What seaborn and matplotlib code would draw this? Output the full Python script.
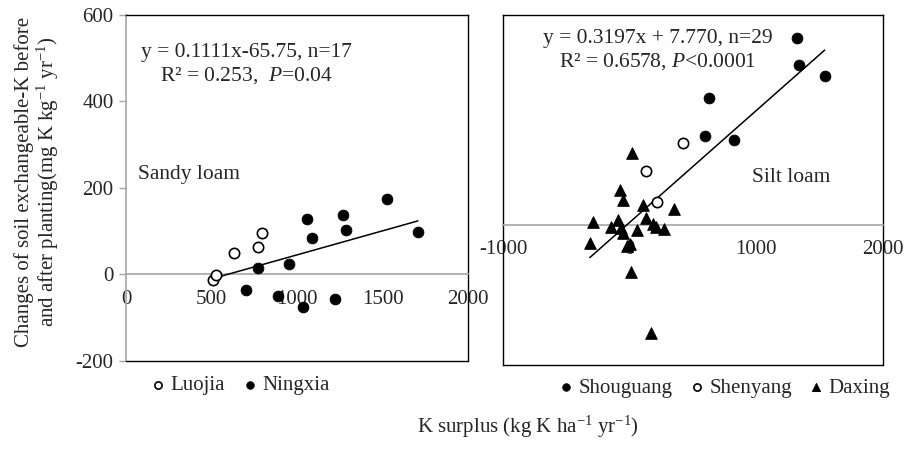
import numpy as np
import matplotlib
matplotlib.use("Agg")
import matplotlib.pyplot as plt
import seaborn as sns

sns.set_style("white")
plt.rcParams["font.family"] = ["Liberation Serif", "DejaVu Serif"]
plt.rcParams["mathtext.fontset"] = "custom"
plt.rcParams["mathtext.rm"] = "Liberation Serif"
plt.rcParams["mathtext.it"] = "Liberation Serif:italic"
plt.rcParams["axes.unicode_minus"] = False
FS = 15

# Sandy loam sites
luojia_x = [509, 528, 630, 772, 797]
luojia_y = [-12, -2, 49, 63, 96]
ningxia_x = [700, 772, 889, 953, 1033, 1060, 1090, 1222, 1271, 1286, 1526, 1707]
ningxia_y = [-36, 14, -49, 24, -75, 129, 85, -57, 138, 104, 174, 98]

# Silt loam sites
shouguang_x = [1320, 1338, 1539, 627, 592, 827]
shouguang_y = [534, 457, 427, 362, 254, 243]
shenyang_x = [424, 126, 215]
shenyang_y = [234, 155, 65]
daxing_x = [15, -77, -51, 102, 347, -293, -96, -148, -72, -56,
            126, 60, 181, 208, 273, -315, 2, -25, 10, 168]
daxing_y = [207, 101, 72, 58, 46, 10, 14, -7, -9, -24,
            19, -13, 3, -5, -11, -52, -54, -61, -133, -308]

# fitted lines (slope, intercept) as printed on the chart
sandy_fit = (0.1111, -65.75)
silt_fit = (0.3197, 7.770)

GRAY = "#a6a6a6"


def frame(ax):
    for s in ["top", "right", "left"]:
        ax.spines[s].set_color("black")
        ax.spines[s].set_linewidth(1.0)
    ax.spines["bottom"].set_position(("data", 0))
    ax.spines["bottom"].set_color(GRAY)
    ax.spines["bottom"].set_linewidth(1.2)
    # bottom border of the box
    ax.plot([0, 1], [0, 0], transform=ax.transAxes, color="black",
            lw=1.0, clip_on=False, zorder=3)
    ax.tick_params(axis="x", direction="inout", length=6, color=GRAY,
                   width=1, pad=8, labelsize=FS)


fig = plt.figure(figsize=(9.13, 4.49), dpi=100)
ax1 = fig.add_axes([0.138, 0.196, 0.3746, 0.7706])
ax2 = fig.add_axes([0.551, 0.187, 0.4162, 0.7795])

# ---- left panel: sandy loam
sns.scatterplot(x=luojia_x, y=luojia_y, ax=ax1, marker="o", s=55,
                color="white", edgecolor="black", linewidth=1.2, label="Luojia", zorder=4)
sns.scatterplot(x=ningxia_x, y=ningxia_y, ax=ax1, marker="o", s=60,
                color="black", edgecolor="black", label="Ningxia", zorder=4)
xs = np.array([min(luojia_x + ningxia_x), max(luojia_x + ningxia_x)])
ax1.plot(xs, sandy_fit[0] * xs + sandy_fit[1], color="black", lw=1.1, zorder=3)

ax1.set_xlim(0, 2000)
ax1.set_ylim(-200, 600)
ax1.set_xticks(range(0, 2001, 500))
ax1.set_yticks(range(-200, 601, 200))
frame(ax1)
ax1.spines["left"].set_color(GRAY)
ax1.spines["left"].set_linewidth(1.2)
ax1.tick_params(axis="y", direction="out", length=5, color=GRAY, width=1,
                pad=4, labelsize=FS, left=True)

ax1.text(0.351, 0.893, "y = 0.1111x-65.75, n=17", transform=ax1.transAxes,
         ha="center", va="center", fontsize=15.5)
ax1.text(0.351, 0.824, "R² = 0.253,  $\\it{P}$=0.04", transform=ax1.transAxes,
         ha="center", va="center", fontsize=15.5)
ax1.text(0.035, 0.540, "Sandy loam", transform=ax1.transAxes,
         ha="left", va="center", fontsize=15.5)

ax1.set_xlabel("")
ax1.set_ylabel("Changes of soil exchangeable-K before\n"
               "and after planting(mg K kg$^{-1}$ yr$^{-1}$)", fontsize=FS,
               linespacing=1.05)
ax1.yaxis.set_label_coords(-0.19, 0.517)

ax1.legend(loc="center left", bbox_to_anchor=(0.075, -0.07), ncol=2,
           frameon=False, handlelength=0.6, handletextpad=0.3, columnspacing=0.9,
           markerscale=0.7, borderaxespad=0, borderpad=0, fontsize=FS)

# ---- right panel: silt loam
sns.scatterplot(x=shouguang_x, y=shouguang_y, ax=ax2, marker="o", s=60,
                color="black", edgecolor="black", label="Shouguang", zorder=4)
sns.scatterplot(x=shenyang_x, y=shenyang_y, ax=ax2, marker="o", s=55,
                color="white", edgecolor="black", linewidth=1.2, label="Shenyang", zorder=4)
sns.scatterplot(x=daxing_x, y=daxing_y, ax=ax2, marker="^", s=70,
                color="black", edgecolor="black", label="Daxing", zorder=4)
all_x = shouguang_x + shenyang_x + daxing_x
xs = np.array([min(all_x), max(all_x)])
ax2.plot(xs, silt_fit[0] * xs + silt_fit[1], color="black", lw=1.1, zorder=3)

ax2.set_xlim(-1000, 2000)
ax2.set_ylim(-400, 600)
ax2.set_xticks([-1000, 0, 1000, 2000])
ax2.set_yticks([])
frame(ax2)

ax2.text(0.408, 0.934, "y = 0.3197x + 7.770, n=29", transform=ax2.transAxes,
         ha="center", va="center", fontsize=15.5)
ax2.text(0.408, 0.866, "R² = 0.6578, $\\it{P}$<0.0001", transform=ax2.transAxes,
         ha="center", va="center", fontsize=15.5)
ax2.text(0.655, 0.537, "Silt loam", transform=ax2.transAxes,
         ha="left", va="center", fontsize=15.5)
ax2.set_xlabel("")
ax2.set_ylabel("")

ax2.legend(loc="center left", bbox_to_anchor=(0.15, -0.066), ncol=3,
           frameon=False, handlelength=0.6, handletextpad=0.3, columnspacing=0.85,
           markerscale=0.7, borderaxespad=0, borderpad=0, fontsize=FS)

fig.text(528 / 913, 1 - 427 / 449, "K surplus (kg K ha$^{-1}$ yr$^{-1}$)",
         ha="center", va="center", fontsize=FS)

fig.savefig("out.png", dpi=100)
